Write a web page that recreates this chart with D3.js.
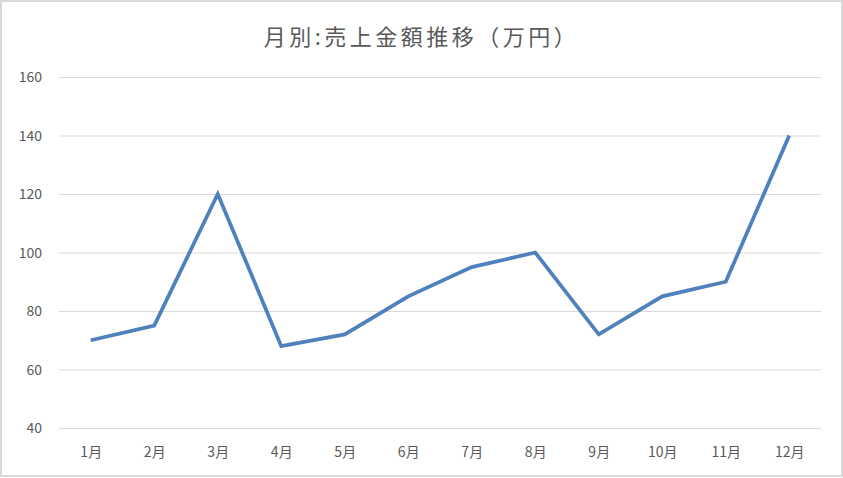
<!DOCTYPE html>
<meta charset="utf-8">
<style>
body {margin: 0; background: white;}
.grid line {stroke: #d9d9d9; stroke-width: 1px;}
.tick text {fill: #595959; font-size: 14px; font-family: "Noto Sans CJK JP", "Noto Sans", sans-serif;}
.title {fill: #595959; font-size: 22px; letter-spacing: 3.5px; font-family: "Noto Sans CJK JP", sans-serif;}
.line {fill: none; stroke: #4f81bd; stroke-width: 3.75px; stroke-linejoin: miter;}
</style>
<body>
<script src="https://d3js.org/d3.v7.min.js"></script>
<script>
var months = ["1月", "2月", "3月", "4月", "5月", "6月", "7月", "8月", "9月", "10月", "11月", "12月"]
var sales = [70, 75, 120, 68, 72, 85, 95, 100, 72, 85, 90, 140]
var yTicks = [40, 60, 80, 100, 120, 140, 160]

var width = 843, height = 478
var plotLeft = 59, plotRight = 821, plotTop = 77, plotBottom = 428

var svg = d3.select("body").append("svg")
  .attr("width", width).attr("height", height)

svg.append("rect")
  .attr("x", 1).attr("y", 1).attr("width", width - 2).attr("height", height - 3)
  .attr("fill", "white").attr("stroke", "#d9d9d9").attr("stroke-width", 2)

var x = d3.scalePoint().domain(months).range([plotLeft, plotRight]).padding(0.5)
var y = d3.scaleLinear().domain([40, 160]).range([plotBottom, plotTop])

svg.append("g").attr("class", "grid")
  .selectAll("line").data(yTicks).enter().append("line")
  .attr("x1", plotLeft).attr("x2", plotRight)
  .attr("y1", d => y(d) + 0.5).attr("y2", d => y(d) + 0.5)

var yAxis = svg.append("g").attr("transform", "translate(" + (plotLeft - 17) + ",0)")
  .call(d3.axisLeft(y).tickValues(yTicks).tickSize(0).tickPadding(0))
yAxis.select(".domain").remove()
yAxis.selectAll("text").attr("dy", "0.35em")

var xAxis = svg.append("g").attr("transform", "translate(0," + (plotBottom + 24) + ")")
  .call(d3.axisBottom(x).tickSize(0).tickPadding(0))
xAxis.select(".domain").remove()
xAxis.selectAll("text").attr("dy", "0.35em")

svg.append("path")
  .datum(sales)
  .attr("class", "line")
  .attr("d", d3.line().x((d, i) => x(months[i])).y(d => y(d)))

svg.append("text").attr("class", "title")
  .attr("x", width / 2).attr("y", 45).attr("text-anchor", "middle")
  .text("月別:売上金額推移（万円）")
</script>
